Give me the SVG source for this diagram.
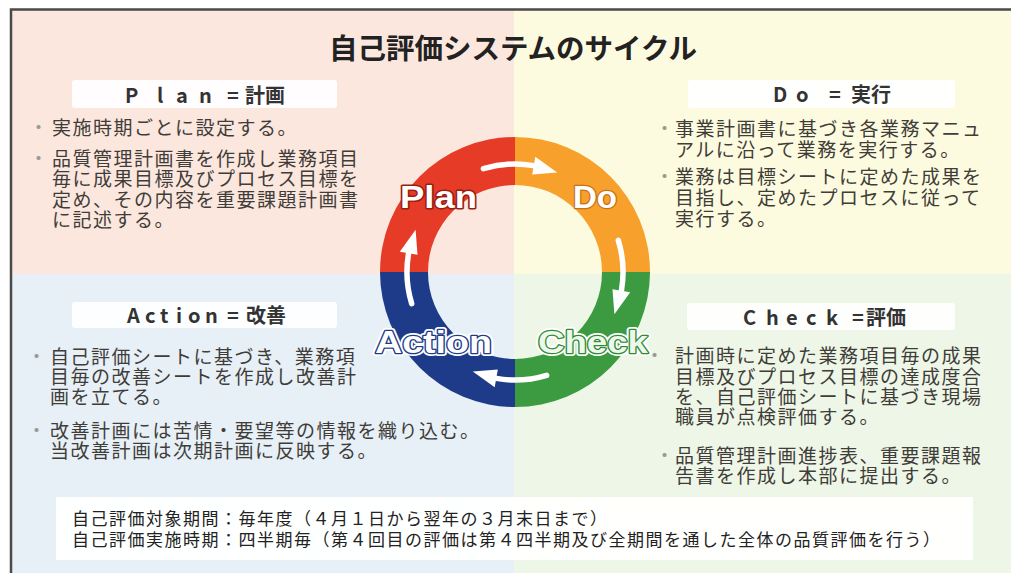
<svg xmlns="http://www.w3.org/2000/svg" width="1011" height="573" viewBox="0 0 1011 573">
<style>
.body{font-family:'Noto Sans CJK JP','Noto Sans CJK SC',sans-serif;font-size:19px;letter-spacing:1.5px;fill:#403d39}
.bul{fill:#9a9a9a;letter-spacing:0}
.hdr{font-family:'Noto Sans CJK JP','Noto Sans CJK SC',sans-serif;font-size:20px;font-weight:bold;fill:#333}
.bar{fill:#ffffff;opacity:0.92}
.foot{font-family:'Noto Sans CJK JP','Noto Sans CJK SC',sans-serif;font-size:17px;letter-spacing:1.5px;fill:#222}
.lbl{font-family:'Liberation Sans',Arial,sans-serif;font-size:32px;font-weight:bold;fill:#fff;paint-order:stroke;stroke-linejoin:round}
.arr{fill:none;stroke:#fff;stroke-width:5.5;stroke-linecap:round}
</style>
<defs>
<g id="arrowShape">
<path class="arr" d="M483.4 168.7 A108 108 0 0 1 533.7 165.6"/>
<polygon points="535.3,156.8 557.2,172.6 532.2,174.5" fill="#fff"/>
</g>
</defs>
<rect width="1011" height="573" fill="#fff"/>
<g id="background">
<rect x="11" y="9" width="503" height="265" fill="#fce7de"/>
<rect x="514" y="9" width="497" height="265" fill="#fdfbdf"/>
<rect x="11" y="274" width="503" height="299" fill="#e7eff7"/>
<rect x="514" y="274" width="497" height="299" fill="#eef6e7"/>
<path d="M1011 9.5 H11 V573" fill="none" stroke="#4a4a4a" stroke-width="2.5"/>
</g>
<g id="title">
<text x="513" y="59" text-anchor="middle" font-family="'Noto Sans CJK JP','Noto Sans CJK SC',sans-serif" font-size="28.5" font-weight="bold" fill="#222">自己評価システムのサイクル</text>
</g>
<g id="ring">
<path d="M380 272 A135 135 0 0 1 515 137 L515 185 A87 87 0 0 0 428 272 Z" fill="#e63b27"/>
<path d="M515 137 A135 135 0 0 1 650 272 L602 272 A87 87 0 0 0 515 185 Z" fill="#f7a02c"/>
<path d="M650 272 A135 135 0 0 1 515 407 L515 359 A87 87 0 0 0 602 272 Z" fill="#3c9a40"/>
<path d="M515 407 A135 135 0 0 1 380 272 L428 272 A87 87 0 0 0 515 359 Z" fill="#1d3b89"/>
</g>
<g id="connectors">
<use href="#arrowShape"/>
<use href="#arrowShape" transform="rotate(90 515 272)"/>
<use href="#arrowShape" transform="rotate(180 515 272)"/>
<use href="#arrowShape" transform="rotate(270 515 272)"/>
</g>
<g id="plan">
<text class="lbl" x="400" y="208" textLength="77" lengthAdjust="spacingAndGlyphs" stroke="#9b1e12" stroke-width="3">Plan</text>
<rect class="bar" x="72" y="80" width="265" height="28" rx="3"/>
<text class="hdr" y="103"><tspan x="125 157 176 199">Plan</tspan><tspan x="227">=</tspan><tspan x="245">計画</tspan></text>
<text class="body"><tspan class="bul" x="29" y="135">・</tspan><tspan x="52" y="135">実施時期ごとに設定する。</tspan></text>
<text class="body"><tspan class="bul" x="29" y="166">・</tspan><tspan x="52" y="166">品質管理計画書を作成し業務項目</tspan><tspan x="52" y="186">毎に成果目標及びプロセス目標を</tspan><tspan x="52" y="207">定め、その内容を重要課題計画書</tspan><tspan x="52" y="227">に記述する。</tspan></text>
</g>
<g id="do">
<text class="lbl" x="573" y="208" textLength="44" lengthAdjust="spacingAndGlyphs" stroke="#c8701a" stroke-width="2.5">Do</text>
<rect class="bar" x="688" y="80" width="267" height="28" rx="3"/>
<text class="hdr" y="102"><tspan x="773 796">Do</tspan><tspan x="829">=</tspan><tspan x="851">実行</tspan></text>
<text class="body"><tspan class="bul" x="655" y="136">・</tspan><tspan x="675" y="136">事業計画書に基づき各業務マニュ</tspan><tspan x="675" y="157">アルに沿って業務を実行する。</tspan></text>
<text class="body"><tspan class="bul" x="655" y="184">・</tspan><tspan x="675" y="184">業務は目標シートに定めた成果を</tspan><tspan x="675" y="205">目指し、定めたプロセスに従って</tspan><tspan x="675" y="226">実行する。</tspan></text>
</g>
<g id="action">
<text class="lbl" x="375" y="353" textLength="117" lengthAdjust="spacingAndGlyphs" stroke="#fff" stroke-width="6">Action</text>
<text class="lbl" x="375" y="353" textLength="117" lengthAdjust="spacingAndGlyphs" stroke="#1d3b89" stroke-width="2.5">Action</text>
<rect class="bar" x="72" y="302" width="265" height="26" rx="3"/>
<text class="hdr" y="323"><tspan x="127 145 160 176 188 205">Action</tspan><tspan x="227">=</tspan><tspan x="246">改善</tspan></text>
<text class="body"><tspan class="bul" x="27" y="364">・</tspan><tspan x="50" y="364">自己評価シートに基づき、業務項</tspan><tspan x="50" y="384">目毎の改善シートを作成し改善計</tspan><tspan x="50" y="404">画を立てる。</tspan></text>
<text class="body"><tspan class="bul" x="27" y="438">・</tspan><tspan x="50" y="438">改善計画には苦情・要望等の情報を織り込む。</tspan><tspan x="50" y="458">当改善計画は次期計画に反映する。</tspan></text>
</g>
<g id="check">
<text class="lbl" x="538" y="353" textLength="110" lengthAdjust="spacingAndGlyphs" stroke="#fff" stroke-width="6">Check</text>
<text class="lbl" x="538" y="353" textLength="110" lengthAdjust="spacingAndGlyphs" stroke="#2f8a35" stroke-width="2.5" style="fill:#eef8ea">Check</text>
<rect class="bar" x="687" y="303" width="268" height="27" rx="3"/>
<text class="hdr" y="325"><tspan x="743 766 786 806 826">Check</tspan><tspan x="852">=</tspan><tspan x="866">評価</tspan></text>
<text class="body"><tspan class="bul" x="645" y="363">・</tspan><tspan x="675" y="363">計画時に定めた業務項目毎の成果</tspan><tspan x="675" y="384">目標及びプロセス目標の達成度合</tspan><tspan x="675" y="404">を、自己評価シートに基づき現場</tspan><tspan x="675" y="424">職員が点検評価する。</tspan></text>
<text class="body"><tspan class="bul" x="655" y="463">・</tspan><tspan x="675" y="463">品質管理計画進捗表、重要課題報</tspan><tspan x="675" y="483">告書を作成し本部に提出する。</tspan></text>
</g>
<g id="period">
<rect x="56" y="497" width="917" height="63" fill="#fff" opacity="0.95"/>
<text class="foot"><tspan x="72" y="525">自己評価対象期間：毎年度（４月１日から翌年の３月末日まで）</tspan><tspan x="72" y="546">自己評価実施時期：四半期毎（第４回目の評価は第４四半期及び全期間を通した全体の品質評価を行う）</tspan></text>
</g>
</svg>
